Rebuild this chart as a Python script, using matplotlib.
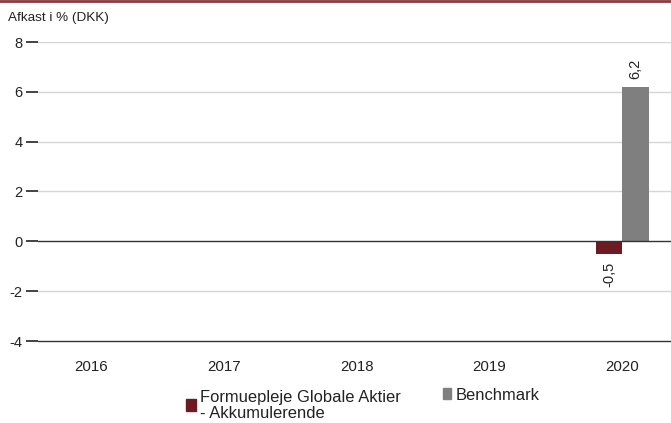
import matplotlib
matplotlib.use("Agg")
import matplotlib.pyplot as plt
from matplotlib.patches import Rectangle
import numpy as np

years = ["2016", "2017", "2018", "2019", "2020"]
fund = [np.nan, np.nan, np.nan, np.nan, -0.5]
bench = [np.nan, np.nan, np.nan, np.nan, 6.2]
yticks = [-4, -2, 0, 2, 4, 6, 8]
fund_name = "Formuepleje Globale Aktier\n- Akkumulerende"
bench_name = "Benchmark"
ylabel = "Afkast i % (DKK)"

FUND_C = "#6d1a22"
BENCH_C = "#7f7f7f"
FONT = "Liberation Sans"

W, H = 671, 423
fig = plt.figure(figsize=(W / 100, H / 100), dpi=100)
ax = fig.add_axes([38 / W, (H - 341) / H, (W - 38) / W, (341 - 42) / H])

x = np.arange(len(years))
bw = 0.2
ax.bar(x - bw / 2, fund, width=bw, color=FUND_C, zorder=3)
ax.bar(x + bw / 2, bench, width=bw, color=BENCH_C, zorder=3)

for xi, v in zip(x, fund):
    if not np.isnan(v):
        ax.annotate(f"{v:.1f}".replace(".", ","), (xi - bw / 2, v), xytext=(0, -6 if v < 0 else 6),
                    textcoords="offset points", rotation=90, ha="center",
                    va="top" if v < 0 else "bottom", fontsize=10.5, family=FONT, color="#222")
for xi, v in zip(x, bench):
    if not np.isnan(v):
        ax.annotate(f"{v:.1f}".replace(".", ","), (xi + bw / 2, v), xytext=(0, 6 if v >= 0 else -6),
                    textcoords="offset points", rotation=90, ha="center",
                    va="bottom" if v >= 0 else "top", fontsize=10.5, family=FONT, color="#222")

ax.set_xlim(-0.397, 4.366)
ax.set_ylim(-4, 8)
ax.set_yticks(yticks)
ax.set_yticklabels([str(t) for t in yticks], family=FONT, fontsize=10.5, color="#222")
ax.set_xticks(x)
ax.set_xticklabels(years, family=FONT, fontsize=10.8, color="#222")
ax.tick_params(axis="x", length=0, pad=14)
ax.tick_params(axis="y", length=9, width=1.2, color="#222", pad=2)

for t in yticks:
    if t == 0:
        ax.axhline(0, color="#333333", lw=1.0, zorder=4)
    elif t != -4:
        ax.axhline(t, color="#d6d6d6", lw=1.0, zorder=1)

for s in ["left", "right", "top"]:
    ax.spines[s].set_visible(False)
ax.spines["bottom"].set_color("#333333")
ax.spines["bottom"].set_linewidth(1.0)

fig.text(8 / W, 1 - 18 / H, ylabel, family=FONT, fontsize=9.7, color="#222", va="center")

# top border line
fig.add_artist(plt.Line2D([0, 1], [1 - 1 / H, 1 - 1 / H], color="#8b3a40", lw=2, transform=fig.transFigure))

# legend
fig.add_artist(Rectangle((186 / W, 1 - 411 / H), 10 / W, 12 / H, color=FUND_C, transform=fig.transFigure))
fig.text(200 / W, 1 - 390 / H, fund_name, family=FONT, fontsize=11.9, color="#222", va="top", linespacing=1.05)
fig.add_artist(Rectangle((442.5 / W, 1 - 399 / H), 8 / W, 11 / H, color=BENCH_C, transform=fig.transFigure))
fig.text(456 / W, 1 - 388 / H, bench_name, family=FONT, fontsize=11.9, color="#222", va="top")

fig.savefig("out.png", dpi=100)
